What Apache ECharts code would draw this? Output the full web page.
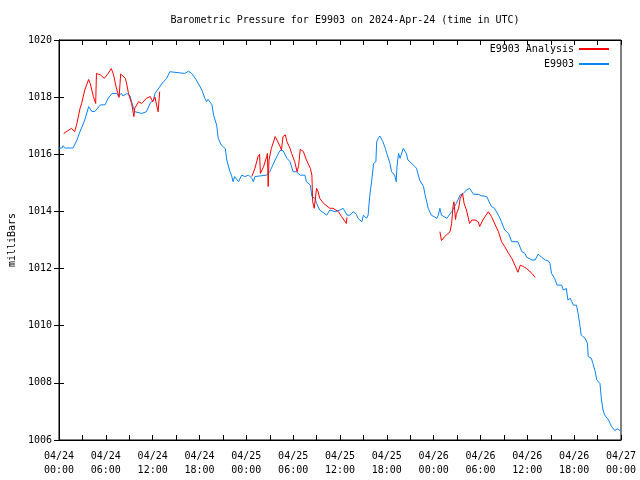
<!DOCTYPE html>
<html>
<head>
<meta charset="utf-8">
<script src="https://cdn.jsdelivr.net/npm/echarts@6/dist/echarts.min.js"></script>
<style>html,body{margin:0;padding:0;background:#fff}#c{width:640px;height:480px}</style>
</head>
<body>
<div id="c"></div>
<script>
// Hours since 2024-04-24 00:00 UTC
const titleText = 'Barometric Pressure for E9903 on 2024-Apr-24 (time in UTC)';
const yLabel = 'milliBars';
const seriesNames = ['E9903 Analysis', 'E9903'];

const blueHours = [0.0,0.4,0.5,0.8,1.8,2.3,2.7,3.3,3.8,4.2,4.6,5.3,5.9,6.3,6.8,7.4,7.6,8.0,8.2,8.7,9.1,9.3,9.7,10.6,11.2,11.7,12.1,12.3,13.2,13.8,14.2,16.1,16.6,17.0,17.6,18.3,18.7,18.9,19.1,19.6,19.8,20.2,20.4,20.8,21.3,21.5,21.9,22.1,22.3,22.5,23.0,23.4,23.8,24.3,24.7,24.9,25.1,26.6,27.0,27.9,28.3,28.7,29.2,29.6,30.0,30.4,30.9,31.5,31.7,32.2,32.4,32.8,33.0,33.4,34.3,34.5,34.7,35.4,36.0,36.4,36.9,37.3,37.7,38.1,38.3,38.8,39.0,39.4,39.6,39.8,40.1,40.3,40.6,40.7,40.9,41.1,41.5,41.8,42.0,42.4,42.6,43.0,43.2,43.3,43.5,43.7,43.9,44.1,44.5,44.7,45.2,45.8,46.2,46.7,46.9,47.3,47.7,48.4,48.6,48.8,49.0,49.7,50.3,50.9,51.4,51.8,52.2,52.6,53.1,53.7,54.1,54.8,55.4,55.8,56.5,57.1,57.6,58.0,58.8,59.3,59.7,59.9,60.6,61.0,61.4,61.8,62.3,62.7,62.9,63.1,63.5,63.8,64.4,64.6,65.0,65.2,65.5,65.7,65.9,66.3,66.5,66.7,66.9,67.4,67.7,67.8,68.2,68.4,68.7,68.9,69.3,69.5,69.7,69.9,70.4,70.8,71.2,71.5,71.9];
const blueValues = [1016.22,1016.22,1016.30,1016.22,1016.22,1016.50,1016.80,1017.20,1017.67,1017.50,1017.50,1017.73,1017.73,1017.96,1018.13,1018.13,1018.04,1018.13,1018.04,1018.13,1018.04,1017.84,1017.49,1017.43,1017.49,1017.80,1017.90,1018.13,1018.48,1018.66,1018.89,1018.83,1018.91,1018.83,1018.60,1018.25,1017.95,1017.84,1017.92,1017.73,1017.37,1017.02,1016.56,1016.32,1016.20,1015.80,1015.39,1015.27,1015.04,1015.22,1015.04,1015.27,1015.22,1015.27,1015.16,1015.04,1015.22,1015.27,1015.39,1015.92,1016.13,1016.13,1015.86,1015.74,1015.39,1015.39,1015.27,1015.27,1015.04,1014.92,1014.52,1014.46,1014.28,1014.05,1013.87,1013.82,1014.05,1013.99,1014.05,1014.11,1013.87,1013.87,1013.99,1013.90,1013.76,1013.64,1013.87,1013.76,1013.87,1014.52,1015.16,1015.68,1015.74,1016.44,1016.56,1016.64,1016.44,1016.21,1016.03,1015.68,1015.39,1015.27,1015.04,1015.56,1016.03,1015.86,1015.92,1016.21,1016.03,1015.80,1015.68,1015.51,1015.10,1014.87,1014.58,1014.11,1013.87,1013.76,1013.87,1014.11,1013.87,1013.76,1013.99,1014.28,1014.58,1014.63,1014.75,1014.81,1014.60,1014.60,1014.55,1014.52,1014.17,1014.11,1013.76,1013.35,1013.23,1012.94,1012.94,1012.59,1012.53,1012.40,1012.30,1012.30,1012.51,1012.40,1012.30,1012.27,1012.18,1011.83,1011.66,1011.42,1011.42,1011.25,1011.30,1010.90,1010.96,1010.84,1010.72,1010.72,1010.43,1010.08,1009.67,1009.56,1009.38,1008.92,1008.86,1008.68,1008.39,1008.10,1007.98,1007.40,1007.05,1006.88,1006.70,1006.47,1006.33,1006.39,1006.33];

const redHours = [0.6,1.0,1.6,2.0,2.3,2.7,2.9,3.3,3.8,4.0,4.4,4.7,4.8,5.3,5.8,6.3,6.7,7.0,7.3,7.7,7.9,8.5,8.7,8.9,9.3,9.6,9.7,10.2,10.6,11.2,11.7,12.0,12.3,12.5,12.7,12.9,
  18.0,
  24.7,25.1,25.5,25.7,25.8,26.0,26.2,26.6,26.7,26.8,26.9,27.2,27.7,27.9,28.3,28.5,28.7,29.0,29.2,29.6,29.8,30.2,30.5,30.7,30.9,31.3,31.7,32.2,32.4,32.5,32.7,33.0,33.2,33.4,33.9,34.7,34.9,35.1,35.8,36.2,36.8,36.9,
  42.0,
  48.8,49.0,49.4,50.1,50.3,50.5,50.6,50.8,50.9,51.2,51.4,51.6,51.7,51.9,52.2,52.6,52.9,53.3,53.7,53.9,54.3,55.0,55.4,55.9,56.3,56.7,57.1,57.6,58.0,58.4,58.8,59.1,59.5,59.9,60.6,61.0];
const redValues = [1016.73,1016.80,1016.91,1016.79,1017.08,1017.61,1017.78,1018.25,1018.62,1018.48,1018.02,1017.78,1018.83,1018.78,1018.66,1018.83,1019.00,1018.78,1018.37,1017.99,1018.81,1018.66,1018.43,1018.13,1017.78,1017.32,1017.61,1017.84,1017.78,1017.96,1018.02,1017.84,1018.00,1017.73,1017.49,1018.19,
  null,
  1015.22,1015.51,1015.92,1016.00,1015.33,1015.27,1015.56,1015.92,1016.03,1014.87,1015.80,1016.20,1016.62,1016.62,1016.29,1016.15,1016.62,1016.68,1016.44,1016.21,1016.03,1015.74,1015.39,1015.60,1016.17,1016.10,1015.80,1015.51,1015.27,1014.34,1014.11,1014.81,1014.69,1014.46,1014.28,1014.11,1014.05,1014.11,1013.99,1013.82,1013.58,1013.79,
  null,
  1013.29,1012.98,1013.12,1013.29,1013.58,1014.22,1014.34,1013.72,1013.90,1014.11,1014.46,1014.40,1014.63,1014.28,1014.05,1013.58,1013.70,1013.70,1013.64,1013.47,1013.70,1013.99,1013.82,1013.52,1013.29,1012.94,1012.77,1012.53,1012.36,1012.12,1011.87,1012.12,1012.07,1012.00,1011.83,1011.69];

const xMin = 0, xMax = 72, xStep = 3, labelStep = 6;
const yMin = 1006, yMax = 1020, yStep = 2;
const startDay = 24, monthStr = '04';

const zip = (h, v) => h.map((x, i) => [x, v[i] === null ? '-' : v[i]]);
const font = 'DejaVu Sans Mono';
const fmtX = (h) => {
  if (Math.round(h) % labelStep !== 0) return '';
  const d = startDay + Math.floor(h / 24);
  const hh = Math.round(h % 24);
  return monthStr + '/' + String(d).padStart(2, '0') + '\n' + String(hh).padStart(2, '0') + ':00';
};

const chart = echarts.init(document.getElementById('c'), null, {renderer: 'canvas'});
const axisCommon = {
  axisLine: {show: true, lineStyle: {color: '#000', width: 1}},
  axisTick: {show: true, inside: true, length: 5, lineStyle: {color: '#000'}},
  splitLine: {show: false}
};
chart.setOption({
  animation: false,
  backgroundColor: '#fff',
  title: {
    text: titleText, left: 340, top: 10, textAlign: 'center',
    textStyle: {fontFamily: font, fontSize: 10, fontWeight: 'normal', color: '#000'}
  },
  legend: {
    orient: 'vertical', right: 26, top: 39, align: 'right',
    itemWidth: 30, itemHeight: 2, itemGap: 5, icon: 'rect',
    textStyle: {fontFamily: font, fontSize: 10, color: '#000'},
    data: seriesNames
  },
  grid: {left: 59, right: 19, top: 40, bottom: 40, containLabel: false, outerBoundsMode: 'none',
    show: true, borderColor: '#000', borderWidth: 1, backgroundColor: 'transparent'},
  xAxis: [
    Object.assign({type: 'value', min: xMin, max: xMax, interval: xStep, position: 'bottom',
      axisLabel: {formatter: fmtX, fontFamily: font, fontSize: 10, color: '#000', margin: 9, lineHeight: 14, showMinLabel: true, showMaxLabel: true}}, axisCommon),
    Object.assign({type: 'value', min: xMin, max: xMax, interval: xStep, position: 'top',
      axisLabel: {show: false}}, axisCommon)
  ],
  yAxis: [
    Object.assign({type: 'value', min: yMin, max: yMax, interval: yStep, position: 'left',
      name: yLabel, nameLocation: 'middle', nameRotate: 90, nameGap: 40,
      nameTextStyle: {fontFamily: font, fontSize: 10, color: '#000'},
      axisLabel: {fontFamily: font, fontSize: 10, color: '#000', margin: 7, formatter: (v) => String(v)}}, axisCommon),
    Object.assign({type: 'value', min: yMin, max: yMax, interval: yStep, position: 'right',
      axisLabel: {show: false}}, axisCommon)
  ],
  series: [
    {name: seriesNames[0], type: 'line', xAxisIndex: 0, yAxisIndex: 0, data: zip(redHours, redValues),
      showSymbol: false, symbol: 'none', connectNulls: false, color: '#ff0000', lineStyle: {width: 1, color: '#ff0000'}, z: 3},
    {name: seriesNames[1], type: 'line', xAxisIndex: 0, yAxisIndex: 0, data: zip(blueHours, blueValues),
      showSymbol: false, symbol: 'none', color: '#0a84f5', lineStyle: {width: 1, color: '#0a84f5'}, z: 2}
  ]
});
</script>
</body>
</html>
